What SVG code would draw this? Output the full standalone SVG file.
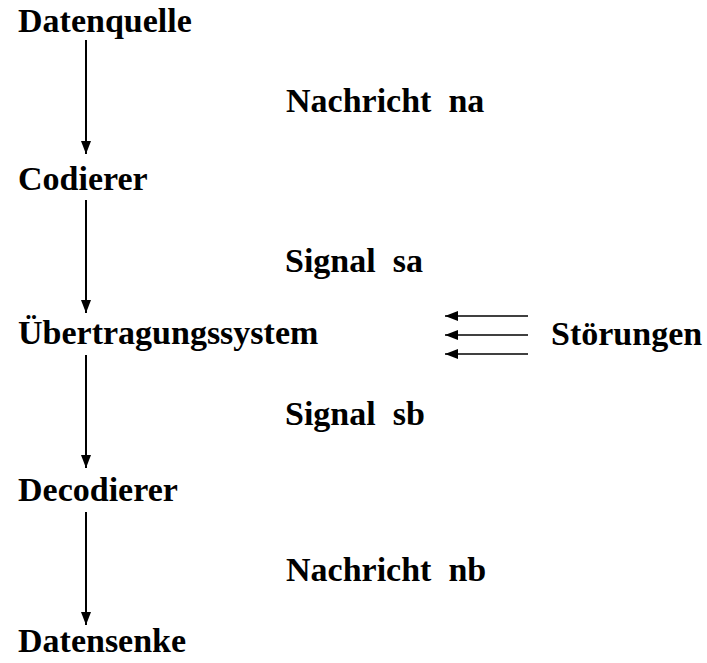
<svg xmlns="http://www.w3.org/2000/svg" width="707" height="663" viewBox="0 0 707 663">
<defs>
<marker id="ah" markerUnits="userSpaceOnUse" markerWidth="14" markerHeight="10" refX="13" refY="5" orient="auto">
<path d="M0,0 L13,5 L0,10 Z" fill="#000"/>
</marker>
<style>
text{font-family:"Liberation Serif","Times New Roman",serif;font-weight:bold;font-size:34px;fill:#000;white-space:pre}
.c{stroke:#000;stroke-width:2;fill:none;marker-end:url(#ah)}
.s{stroke:#000;stroke-width:1.5;fill:none;marker-end:url(#ah)}
</style>
</defs>
<rect width="707" height="663" fill="#fff"/>
<g id="datenquelle"><text x="18" y="32">Datenquelle</text></g>
<g id="codierer"><text x="18" y="190">Codierer</text></g>
<g id="uebertragungssystem"><text x="18" y="344">Übertragungssystem</text></g>
<g id="decodierer"><text x="18" y="501">Decodierer</text></g>
<g id="datensenke"><text x="18" y="652">Datensenke</text></g>
<g id="stoerungen"><text x="551" y="345">Störungen</text></g>
<g id="labels">
<text x="286" y="112" xml:space="preserve">Nachricht  na</text>
<text x="285" y="272" xml:space="preserve">Signal  sa</text>
<text x="285" y="425" xml:space="preserve">Signal  sb</text>
<text x="286" y="581" xml:space="preserve">Nachricht  nb</text>
</g>
<g id="connectors">
<line class="c" x1="86" y1="40" x2="86" y2="154"/>
<line class="c" x1="86" y1="200" x2="86" y2="313"/>
<line class="c" x1="86" y1="355" x2="86" y2="468"/>
<line class="c" x1="86" y1="512" x2="86" y2="625"/>
<line class="s" x1="528" y1="316" x2="445" y2="316"/>
<line class="s" x1="528" y1="335" x2="445" y2="335"/>
<line class="s" x1="528" y1="354" x2="445" y2="354"/>
</g>
</svg>
